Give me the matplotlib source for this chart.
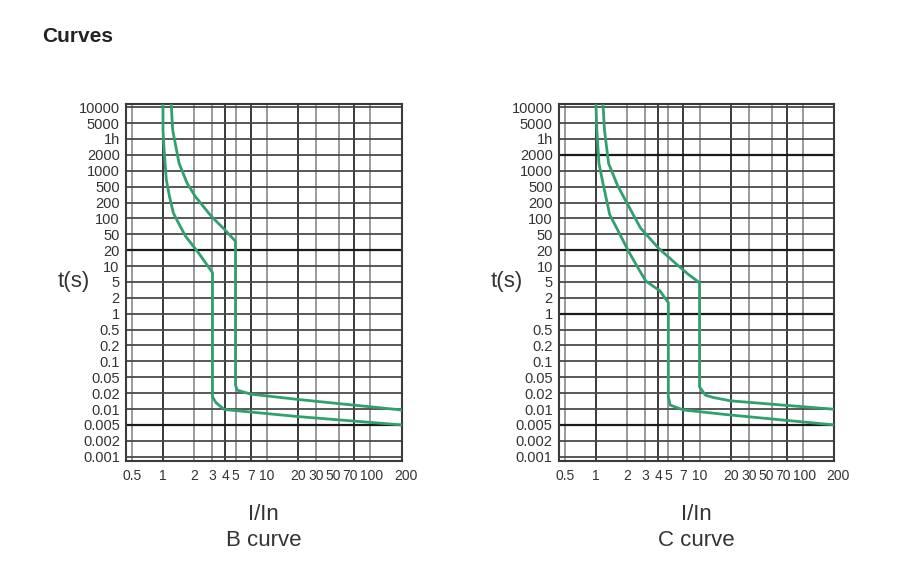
import numpy as np
import matplotlib
matplotlib.use('Agg')
import matplotlib.pyplot as plt
from matplotlib.ticker import FixedLocator, FixedFormatter, NullLocator
from matplotlib.transforms import ScaledTranslation

plt.rcParams['font.family'] = ['Liberation Sans', 'DejaVu Sans']

# tick values / labels
t_ticks = [10000, 5000, 3600, 2000, 1000, 500, 200, 100, 50, 20, 10, 5, 2, 1,
           0.5, 0.2, 0.1, 0.05, 0.02, 0.01, 0.005, 0.002, 0.001]
t_labels = ['10000', '5000', '1h', '2000', '1000', '500', '200', '100', '50', '20',
            '10', '5', '2', '1', '0.5', '0.2', '0.1', '0.05', '0.02', '0.01',
            '0.005', '0.002', '0.001']
i_ticks = [0.5, 1, 2, 3, 4, 5, 7, 10, 20, 30, 50, 70, 100, 200]
i_labels = ['0.5', '1', '2', '3', '4', '5', '7', '10', '20', '30', '50', '70', '100', '200']
i_dark = [1, 4, 7, 20, 70]

# B curve (lower / upper limit), current in multiples of In, time in s
b_low_i = [1.0, 1.0, 1.02, 1.076, 1.155, 1.26, 1.41, 1.65, 2.2, 3.0, 3.0, 3.24, 3.9, 20, 200]
b_low_t = [15000, 4300, 2700, 680, 282, 126, 82, 44.6, 17.8, 7.5, 0.017, 0.0132, 0.0098, 0.0072, 0.005]
b_high_i = [1.2, 1.24, 1.43, 1.71, 2.05, 2.93, 3.91, 5.0, 5.0, 5.2, 7.0, 20, 200]
b_high_t = [15000, 4330, 1376, 578, 282, 109, 62, 33.4, 0.0316, 0.0238, 0.0192, 0.0152, 0.0096]

# C curve
c_low_i = [1.0, 1.02, 1.07, 1.16, 1.36, 1.71, 2.06, 2.54, 3.03, 4.14, 5.0, 5.0, 5.2, 7.0, 20, 200]
c_low_t = [15000, 4300, 1376, 620, 117, 49, 19.2, 9.3, 5.2, 3.0, 1.62, 0.017, 0.0119, 0.0096, 0.0077, 0.005]
c_high_i = [1.17, 1.21, 1.325, 1.62, 2.12, 2.69, 4.0, 5.8, 7.7, 10.0, 10.0, 11.4, 13.5, 20, 200]
c_high_t = [15000, 4300, 1376, 520, 156, 66, 22.7, 11.5, 7.1, 4.8, 0.0288, 0.0183, 0.0166, 0.0143, 0.0099]

GREEN = '#30a06e'
TXT = '#333333'

# evenly spaced time labels -> piecewise log scale
logs = np.log10(np.array(t_ticks[::-1], dtype=float))
logs = np.concatenate([[logs[0] - 1], logs, [logs[-1] + 1]])
pos = np.arange(len(logs)) - 1.0


def fwd(t):
    t = np.clip(np.asarray(t, dtype=float), 1e-12, None)
    return np.interp(np.log10(t), logs, pos)


def inv(p):
    return 10 ** np.interp(p, pos, logs)


# small sideways nudges (px) so the crowded labels at the right end don't collide
label_nudge = {'50': -6, '70': -4, '100': 1, '200': 4}


def draw_chart(ax, curves, name, dark_rows):
    ax.set_xscale('log')
    ax.set_yscale('function', functions=(fwd, inv))
    ax.set_xlim(0.44, 200)
    ax.set_ylim(inv(-0.27), inv(22.2))

    for v in i_ticks[:-1]:
        dark = v in i_dark
        ax.axvline(v, color='#3a3a3a' if dark else '#9a9a9a', lw=1.4, zorder=1)
    for v in t_ticks:
        ax.axhline(v, color='#4a4a4a', lw=1.3, zorder=1)
    for v in dark_rows:
        ax.axhline(v, color='#1a1a1a', lw=1.6, zorder=1)

    for ci, ct in curves:
        ax.plot(ci, ct, color=GREEN, lw=2.0, zorder=3, solid_joinstyle='round')

    ax.xaxis.set_major_locator(FixedLocator(i_ticks))
    ax.xaxis.set_major_formatter(FixedFormatter(i_labels))
    ax.xaxis.set_minor_locator(NullLocator())
    ax.yaxis.set_major_locator(FixedLocator(t_ticks))
    ax.yaxis.set_major_formatter(FixedFormatter(t_labels))
    ax.yaxis.set_minor_locator(NullLocator())
    ax.tick_params(axis='x', length=0, pad=5.5, labelsize=10, colors=TXT)
    ax.tick_params(axis='y', length=0, pad=4.5, labelsize=10.5, colors=TXT)
    for s in ax.spines.values():
        s.set_color('#3a3a3a')
        s.set_linewidth(1.5)

    for lab, txt in zip(ax.xaxis.get_majorticklabels(), i_labels):
        dx = label_nudge.get(txt, 0)
        if dx:
            lab.set_transform(lab.get_transform() +
                              ScaledTranslation(dx / 100, 0, fig.dpi_scale_trans))

    bb = ax.get_position()
    xc = bb.x0 + bb.width / 2
    fig.text(bb.x0 - 52 / 914, 1 - 282 / 578, 't(s)', ha='center', va='center',
             fontsize=16, color=TXT)
    fig.text(xc, 1 - 515 / 578, 'I/In', ha='center', va='center', fontsize=16, color=TXT)
    fig.text(xc, 1 - 540 / 578, name, ha='center', va='center', fontsize=16, color=TXT)


fig = plt.figure(figsize=(9.14, 5.78), dpi=100)
ax1 = fig.add_axes([126 / 914, 1 - 461 / 578, 275.7 / 914, 357 / 578])
ax2 = fig.add_axes([559 / 914, 1 - 461 / 578, 275.3 / 914, 357 / 578])

draw_chart(ax1, [(b_low_i, b_low_t), (b_high_i, b_high_t)], 'B curve', [20, 0.005])
draw_chart(ax2, [(c_low_i, c_low_t), (c_high_i, c_high_t)], 'C curve', [2000, 20, 1, 0.005])

fig.text(42 / 914, 1 - 36 / 578, 'Curves', ha='left', va='center', fontsize=15,
         fontweight='bold', color='#222222')

fig.savefig('out.png', dpi=100)
